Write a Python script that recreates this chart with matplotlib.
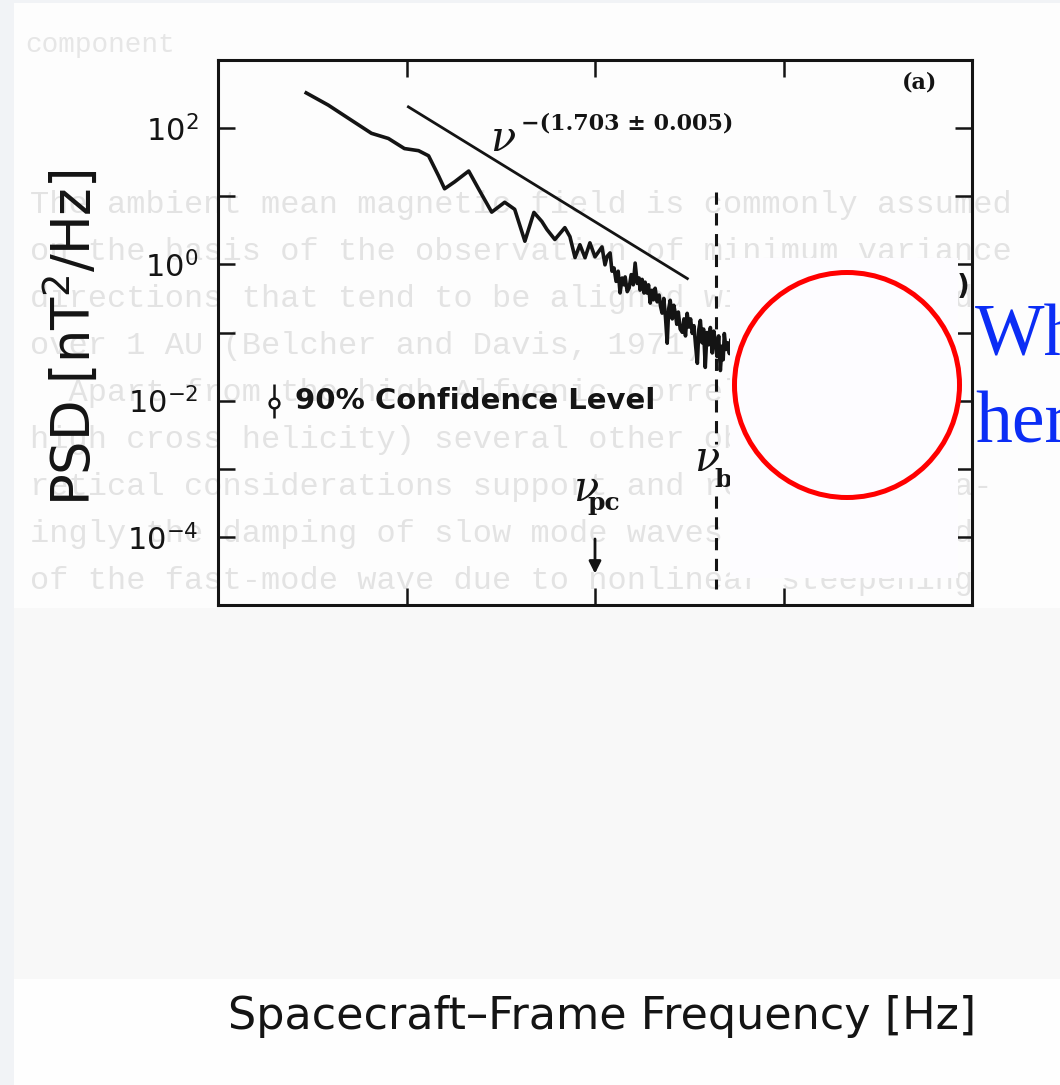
import numpy as np
import matplotlib.pyplot as plt
from matplotlib.patches import Rectangle, Ellipse

# 功率谱曲线 (log10 频率 / log10 PSD)
log_freq = [-3.532, -3.415, -3.309, -3.186, -3.096, -3.011, -2.936, -2.883,
            -2.830, -2.798, -2.745, -2.670, -2.617, -2.548, -2.479, -2.426,
            -2.372, -2.324, -2.282, -2.255, -2.213, -2.160, -2.133, -2.106,
            -2.080, -2.053, -2.027, -2.000, -1.963,
            -1.947, -1.935, -1.920, -1.910, -1.899, -1.888, -1.877, -1.867,
            -1.856, -1.846, -1.840, -1.829, -1.819, -1.808, -1.797, -1.787,
            -1.776, -1.766, -1.761, -1.750, -1.740, -1.734, -1.725, -1.716,
            -1.707, -1.698, -1.690, -1.681, -1.670, -1.660, -1.652, -1.644,
            -1.635, -1.626, -1.617, -1.609, -1.601, -1.590, -1.582, -1.574,
            -1.566, -1.558, -1.548, -1.537, -1.528, -1.520, -1.511, -1.502,
            -1.493, -1.484, -1.475, -1.466, -1.457, -1.449, -1.441, -1.432,
            -1.424, -1.415, -1.406, -1.397, -1.388, -1.378, -1.370, -1.362,
            -1.353, -1.344, -1.335, -1.326, -1.320, -1.314, -1.305, -1.296,
            -1.287, -1.278, -1.270, -1.261]
log_psd = [2.517, 2.338, 2.146, 1.924, 1.848, 1.700, 1.669, 1.594,
           1.300, 1.110, 1.211, 1.370, 1.105, 0.767, 0.912, 0.808,
           0.340, 0.763, 0.630, 0.512, 0.365, 0.539, 0.407, 0.100,
           0.288, 0.098, 0.316, 0.111, 0.256,
           -0.007, 0.12, 0.168, -0.10, -0.053, -0.25, -0.10, -0.419,
           -0.20, -0.30, -0.184, -0.40, -0.347, -0.15, -0.30, 0.019,
           -0.28, -0.20, -0.378, -0.22, -0.42, -0.261, -0.420, -0.300,
           -0.568, -0.38, -0.52, -0.350, -0.550, -0.450, -0.62, -0.716,
           -0.50, -0.78, -1.157, -0.65, -0.527, -0.800, -0.600, -0.717,
           -0.88, -0.70, -0.95, -0.997, -0.800, -1.050, -0.719, -0.92,
           -0.80, -1.013, -0.900, -1.200, -1.452, -0.95, -0.823, -1.150,
           -0.950, -1.512, -1.00, -1.18, -0.927, -1.300, -0.980, -1.119,
           -1.35, -1.05, -1.558, -1.200, -1.400, -1.016, -1.25, -1.15,
           -1.310, -1.100, -1.450, -1.662]

# 幂律拟合
fit_index = 1.703
fit_error = 0.005
fit_log_amp = -2.78
fit_log_range = [-2.99, -1.51]

# 特征频率
nu_pc = 1e-2
nu_b = 10 ** -1.358

y_ticks = [1e-4, 1e-3, 1e-2, 1e-1, 1e0, 1e1, 1e2]
y_tick_labels = [r'$10^{-4}$', '', r'$10^{-2}$', '', r'$10^{0}$', '', r'$10^{2}$']
x_ticks = [1e-3, 1e-2, 1e-1]

# 背面透过来的正文
page_lines = [
    "The ambient mean magnetic field is commonly assumed",
    "on the basis of the observation of minimum variance",
    "directions that tend to be aligned with the field",
    "over 1 AU (Belcher and Davis, 1971). The",
    "  Apart from the high Alfvenic correlations (or",
    "high cross helicity) several other observations",
    "retical considerations support and reinforce para-",
    "ingly the damping of slow mode waves expected and",
    "of the fast-mode wave due to nonlinear steepening",
]

W, H = 1060, 1085
ink = '#141414'


def fx(px):
    return px / W


def fy(py):
    return 1 - py / H


fig = plt.figure(figsize=(W / 100, H / 100), dpi=100, facecolor='#f1f3f6')

# 纸面区域
fig.add_artist(Rectangle((fx(14), fy(608)), fx(1046), 605 / H, transform=fig.transFigure,
                         fc='#fdfdfd', ec='none', zorder=-10))
fig.add_artist(Rectangle((fx(14), fy(979)), fx(1046), 371 / H, transform=fig.transFigure,
                         fc='#f8f8f8', ec='none', zorder=-10))
fig.add_artist(Rectangle((fx(14), 0), fx(1046), fy(979), transform=fig.transFigure,
                         fc='#fefefe', ec='none', zorder=-10))

for i, line in enumerate(page_lines):
    fig.text(fx(30), fy(205 + 47 * i), line, family='Liberation Mono', size=23,
             color='#e3e3e3', va='center', zorder=-5)
fig.text(fx(25), fy(45), "component", family='Liberation Mono', size=20,
         color='#e6e6e6', va='center', zorder=-5)

ax = fig.add_axes([fx(218), fy(605), 754 / W, 545 / H])
ax.patch.set_visible(False)
ax.set_xscale('log')
ax.set_yscale('log')
ax.set_xlim(1e-4, 1e0)
ax.set_ylim(1e-5, 1e3)

ax.plot(10 ** np.array(log_freq), 10 ** np.array(log_psd), color=ink, lw=2.6)

f_fit = 10 ** np.array(fit_log_range)
ax.plot(f_fit, 10 ** fit_log_amp * f_fit ** -fit_index, color=ink, lw=2.0)
ax.text(10 ** -2.49, 10 ** 1.84, 'ν', family='DejaVu Serif', style='italic',
        size=30, color=ink, ha='center', va='center')
ax.text(10 ** -2.39, 10 ** 2.07, '−(%.3f ± %.3f)' % (fit_index, fit_error),
        family='DejaVu Serif', weight='bold', size=16, color=ink, va='center')

# ν_b 虚线
ax.plot([nu_b, nu_b], [10 ** 1.06, 10 ** -2.64], color=ink, lw=2.2, ls=(0, (4, 2.8)))
ax.plot([nu_b, nu_b], [10 ** -3.40, 10 ** -4.76], color=ink, lw=2.2, ls=(0, (4, 2.8)))
ax.text(10 ** -1.41, 10 ** -2.86, 'ν', family='DejaVu Serif', style='italic',
        size=30, color=ink, ha='center', va='center')
ax.text(10 ** -1.318, 10 ** -3.17, 'b', family='DejaVu Serif', weight='bold',
        size=18, color=ink, ha='center', va='center')

# ν_pc 箭头
ax.annotate('', xy=(nu_pc, 10 ** -4.58), xytext=(nu_pc, 10 ** -3.99),
            arrowprops=dict(arrowstyle='-|>', color=ink, lw=2, mutation_scale=18))
ax.text(10 ** -2.05, 10 ** -3.30, 'ν', family='DejaVu Serif', style='italic',
        size=30, color=ink, ha='center', va='center')
ax.text(10 ** -1.955, 10 ** -3.50, 'pc', family='DejaVu Serif', weight='bold',
        size=18, color=ink, ha='center', va='center')

# 置信度
ax.errorbar([10 ** -3.703], [10 ** -2.03], yerr=[[10 ** -2.03 - 10 ** -2.25], [10 ** -1.76 - 10 ** -2.03]],
            fmt='o', ms=7, mfc='white', mec=ink, mew=1.8, ecolor=ink, elinewidth=1.8, capsize=0)
ax.text(10 ** -3.59, 10 ** -2.0, '90% Confidence Level', weight='bold', size=21,
        color=ink, va='center')

ax.text(0.931, 0.958, '(a)', transform=ax.transAxes, family='DejaVu Serif',
        weight='bold', size=16, color=ink, ha='center', va='center')

ax.set_yticks(y_ticks)
ax.set_yticklabels(y_tick_labels)
ax.set_xticks(x_ticks)
ax.set_xticklabels([])
ax.minorticks_off()
ax.tick_params(direction='in', length=12, width=1.8, top=True, right=True,
               labelsize=22, pad=14, colors=ink)
for s in ax.spines.values():
    s.set_linewidth(2.2)
    s.set_color(ink)

fig.text(fx(72), fy(338), 'PSD [nT$^2$/Hz]', rotation=90, size=38, color=ink,
         weight='medium', ha='center', va='center')
fig.text(fx(602), fy(1017), 'Spacecraft–Frame Frequency [Hz]', size=32, color=ink,
         ha='center', va='center')

# 遮挡框、红圈和蓝字
fig.text(fx(957), fy(287), ')', weight='bold', size=20, color=ink, va='center', zorder=9)
fig.add_artist(Rectangle((fx(730), fy(578)), 228 / W, 320 / H, transform=fig.transFigure,
                         fc='#fdfcff', ec='none', zorder=10))
fig.add_artist(Ellipse((fx(847), fy(385)), 225 / W, 225 / H, transform=fig.transFigure,
                       fill=False, ec='#ff0000', lw=3.6, zorder=11))
fig.text(fx(975), fy(355), 'Wh', family='Liberation Serif', size=53, color='#0b2df5',
         va='baseline', zorder=11)
fig.text(fx(975), fy(442), 'her', family='Liberation Serif', size=53, color='#0b2df5',
         va='baseline', zorder=11)

fig.savefig('out.png', dpi=100, facecolor=fig.get_facecolor())
